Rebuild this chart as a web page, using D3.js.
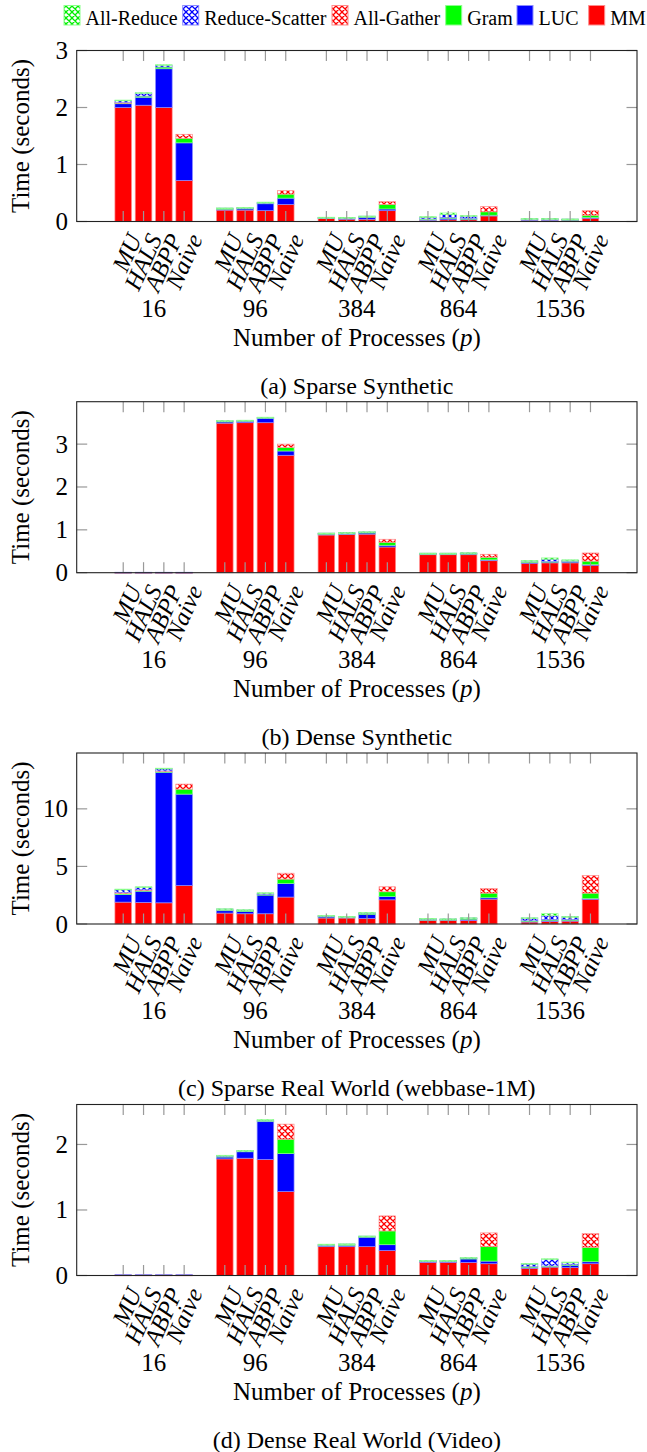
<!DOCTYPE html>
<html><head><meta charset="utf-8">
<script src="https://cdn.jsdelivr.net/npm/d3@7"></script>
<style>body{margin:0;background:#fff} svg{display:block}</style>
</head><body><svg id="c" width="647" height="1452"></svg>
<script>
// ---------- data ----------
const groups = ["16","96","384","864","1536"];
const algorithms = ["MU","HALS","ABPP","Naive"];
const components = ["MM","LUC","Gram","All-Gather","Reduce-Scatter","All-Reduce"];
const legendOrder = ["All-Reduce","Reduce-Scatter","All-Gather","Gram","LUC","MM"];

// (a) Sparse Synthetic  — bars ordered group by group: MU, HALS, ABPP, Naive
const sparseSyn_MM   = [2.00,2.04,2.00,0.72, 0.20,0.20,0.19,0.30, 0.05,0.04,0.04,0.19, 0.02,0.03,0.03,0.10, 0.02,0.02,0.02,0.06];
const sparseSyn_LUC  = [0.07,0.14,0.68,0.66, 0.02,0.03,0.13,0.11, 0.015,0.02,0.04,0.03, 0.02,0.03,0.02,0.01, 0.02,0.02,0.015,0.01];
const sparseSyn_Gram = [0.01,0.02,0.03,0.08, 0.005,0.005,0.005,0.07, 0.003,0.005,0.003,0.08, 0.005,0.01,0.005,0.06, 0.005,0.005,0.003,0.04];
const sparseSyn_AG   = [0.01,0,0,0.07, 0,0,0,0.06, 0,0,0,0.05, 0,0,0,0.09, 0,0,0,0.08];
const sparseSyn_RS   = [0.03,0.05,0.03,0, 0.01,0.01,0.01,0, 0.005,0.005,0.01,0, 0.03,0.05,0.04,0, 0.005,0.005,0.005,0];
const sparseSyn_AR   = [0.01,0.01,0.01,0, 0.003,0.003,0.005,0, 0.002,0.002,0.003,0, 0.01,0.03,0.01,0, 0.003,0.003,0.002,0];

// (b) Dense Synthetic
const denseSyn_MM   = [0.008,0.008,0.008,0.008, 3.49,3.50,3.50,2.74, 0.88,0.89,0.90,0.60, 0.42,0.42,0.42,0.28, 0.23,0.23,0.23,0.18];
const denseSyn_LUC  = [0.003,0.003,0.003,0.003, 0.04,0.04,0.11,0.10, 0.03,0.03,0.04,0.04, 0.02,0.02,0.03,0.02, 0.005,0.03,0.03,0.01];
const denseSyn_Gram = [0,0,0,0, 0.005,0.005,0.005,0.08, 0.003,0.003,0.003,0.07, 0.005,0.005,0.003,0.06, 0.02,0.005,0.01,0.08];
const denseSyn_AG   = [0,0,0,0, 0,0,0,0.08, 0,0,0,0.07, 0,0,0,0.07, 0,0,0,0.19];
const denseSyn_RS   = [0,0,0,0, 0.01,0.01,0.01,0, 0.01,0.01,0.01,0, 0.01,0.01,0.01,0, 0.02,0.05,0.02,0];
const denseSyn_AR   = [0,0,0,0, 0.003,0.003,0.003,0, 0.003,0.003,0.003,0, 0.002,0.002,0.002,0, 0.01,0.03,0.01,0];

// (c) Sparse Real World (webbase-1M)
const sparseReal_MM   = [1.90,1.88,1.84,3.34, 0.95,0.89,0.89,2.34, 0.52,0.52,0.49,2.10, 0.32,0.33,0.31,2.16, 0.17,0.23,0.25,2.16];
const sparseReal_LUC  = [0.65,0.98,11.35,7.94, 0.22,0.22,1.64,1.18, 0.13,0.07,0.37,0.29, 0.08,0.06,0.15,0.12, 0.10,0.14,0.12,0.05];
const sparseReal_Gram = [0.10,0.05,0.05,0.43, 0.05,0.04,0.04,0.38, 0.03,0.02,0.03,0.41, 0.01,0.02,0.01,0.40, 0.01,0.01,0.01,0.47];
const sparseReal_AG   = [0.08,0.06,0.06,0.44, 0,0,0,0.51, 0,0,0,0.43, 0,0,0,0.40, 0,0,0,1.53];
const sparseReal_RS   = [0.25,0.22,0.20,0, 0.08,0.07,0.10,0, 0.05,0.04,0.08,0, 0.06,0.03,0.06,0, 0.24,0.34,0.24,0];
const sparseReal_AR   = [0.05,0.04,0.03,0, 0.02,0.02,0.04,0, 0.02,0.01,0.03,0, 0.02,0.01,0.01,0, 0.02,0.17,0.02,0];

// (d) Dense Real World (Video)
const denseReal_MM   = [0.008,0.008,0.008,0.008, 1.78,1.79,1.77,1.28, 0.44,0.44,0.44,0.38, 0.20,0.20,0.20,0.18, 0.11,0.13,0.12,0.18];
const denseReal_LUC  = [0.004,0.004,0.004,0.004, 0.03,0.10,0.58,0.58, 0.02,0.02,0.15,0.09, 0.02,0.02,0.06,0.04, 0.02,0.01,0.04,0.03];
const denseReal_Gram = [0,0,0,0, 0.01,0.01,0.01,0.22, 0.005,0.01,0.005,0.21, 0.003,0.003,0.003,0.22, 0.005,0.005,0.005,0.22];
const denseReal_AG   = [0,0,0,0, 0,0,0,0.23, 0,0,0,0.23, 0,0,0,0.21, 0,0,0,0.21];
const denseReal_RS   = [0,0,0,0, 0.01,0.005,0.01,0, 0.01,0.01,0.005,0, 0.005,0.005,0.01,0, 0.04,0.10,0.03,0];
const denseReal_AR   = [0,0,0,0, 0.005,0.003,0.01,0, 0.003,0.003,0.003,0, 0.002,0.002,0.002,0, 0.01,0.01,0.01,0];

const captions = ["(a) Sparse Synthetic","(b) Dense Synthetic","(c) Sparse Real World (webbase-1M)","(d) Dense Real World (Video)"];
const yMaxes = [3.0, 3.99, 14.85, 2.61];
const yTicks = [[0,1,2,3],[0,1,2,3],[0,5,10],[0,1,2]];
const panelSeries = [
  [sparseSyn_MM, sparseSyn_LUC, sparseSyn_Gram, sparseSyn_AG, sparseSyn_RS, sparseSyn_AR],
  [denseSyn_MM, denseSyn_LUC, denseSyn_Gram, denseSyn_AG, denseSyn_RS, denseSyn_AR],
  [sparseReal_MM, sparseReal_LUC, sparseReal_Gram, sparseReal_AG, sparseReal_RS, sparseReal_AR],
  [denseReal_MM, denseReal_LUC, denseReal_Gram, denseReal_AG, denseReal_RS, denseReal_AR]
];

// ---------- layout & style ----------
const panelTops = [50.5, 401.7, 753, 1104.5];
const plotH = 171, plotL = 76.7, plotR = 637;
const FONT = "'Liberation Serif','Times New Roman',serif";
const style = {
  "MM":            {fill:"#ff0000", stroke:"#ff8c8c"},
  "LUC":           {fill:"#0000ff", stroke:"#8c8cff"},
  "Gram":          {fill:"#00ff00", stroke:"#8cff8c"},
  "All-Gather":    {fill:"url(#hatch-red)",   stroke:"#ff8c8c"},
  "Reduce-Scatter":{fill:"url(#hatch-blue)",  stroke:"#8c8cff"},
  "All-Reduce":    {fill:"url(#hatch-green)", stroke:"#8cff8c"}
};

const svg = d3.select("#c");
const defs = svg.append("defs");
[["hatch-red","#ff0000"],["hatch-blue","#0000ff"],["hatch-green","#00ee00"]].forEach(([id,c])=>{
  const p = defs.append("pattern").attr("id",id).attr("patternUnits","userSpaceOnUse")
    .attr("width",6).attr("height",6);
  p.append("rect").attr("width",6).attr("height",6).attr("fill","#fff");
  p.append("path").attr("d","M0,0 L6,6 M6,0 L0,6 M-1,5 L1,7 M5,-1 L7,1 M5,7 L7,5 M-1,1 L1,-1")
    .attr("stroke",c).attr("stroke-width",1.3).attr("fill","none");
});

// slot index for each bar (one empty slot between groups)
const slots = [];
groups.forEach((g,gi)=>algorithms.forEach((a,ai)=>slots.push({group:g, alg:a, slot:gi*5+ai})));
const x = d3.scaleLinear().domain([-2.29, 25.29]).range([plotL, plotR]);
const barW = 16.6;

// ---------- legend ----------
const legendX = [64, 182.7, 332, 445.7, 517, 588.7];
const leg = svg.append("g");
legendOrder.forEach((k,i)=>{
  leg.append("rect").attr("x",legendX[i]).attr("y",5.5).attr("width",16).attr("height",19.5)
    .attr("fill",style[k].fill).attr("stroke",style[k].stroke).attr("stroke-width",1);
  leg.append("text").attr("x",legendX[i]+21.5).attr("y",24.5).attr("font-family",FONT)
    .attr("font-size",20).text(k);
});

// ---------- panels ----------
panelSeries.forEach((series,pi)=>{
  const top = panelTops[pi], bottom = top + plotH;
  const y = d3.scaleLinear().domain([0, yMaxes[pi]]).range([bottom, top]);
  const g = svg.append("g");
  const table = slots.map((s,i)=>{
    const row = {slot:s.slot, alg:s.alg};
    components.forEach((c,ci)=>row[c]=series[ci][i]);
    return row;
  });
  const stacked = d3.stack().keys(components)(table);

  stacked.forEach(layer=>{
    const st = style[layer.key];
    g.append("g").selectAll("rect").data(layer.filter(d=>d[1]-d[0]>0)).join("rect")
      .attr("x",d=>x(d.data.slot)-barW/2)
      .attr("width",barW)
      .attr("y",d=>y(d[1]))
      .attr("height",d=>Math.max(0.8, y(d[0])-y(d[1])))
      .attr("fill",st.fill)
      .attr("stroke",st.stroke).attr("stroke-width",0.7);
  });

  // tick marks
  const tickC = "#999", tl = 10.5;
  slots.forEach(s=>{
    const xx = x(s.slot);
    g.append("line").attr("x1",xx).attr("x2",xx).attr("y1",top).attr("y2",top+tl).attr("stroke",tickC).attr("stroke-width",1.2);
    g.append("line").attr("x1",xx).attr("x2",xx).attr("y1",bottom).attr("y2",bottom-tl).attr("stroke",tickC).attr("stroke-width",1.2);
  });
  yTicks[pi].forEach(t=>{
    const yy = y(t);
    g.append("line").attr("x1",plotL).attr("x2",plotL+tl).attr("y1",yy).attr("y2",yy).attr("stroke",tickC).attr("stroke-width",1.2);
    g.append("line").attr("x1",plotR).attr("x2",plotR-tl).attr("y1",yy).attr("y2",yy).attr("stroke",tickC).attr("stroke-width",1.2);
    g.append("text").attr("x",68).attr("y",yy+8.5).attr("text-anchor","end")
      .attr("font-family",FONT).attr("font-size",25).text(t);
  });
  // frame
  g.append("rect").attr("x",plotL).attr("y",top).attr("width",plotR-plotL).attr("height",plotH)
    .attr("fill","none").attr("stroke","#222").attr("stroke-width",1.1);

  // y title
  g.append("text").attr("transform",`translate(29,${(top+bottom)/2}) rotate(-90)`)
    .attr("text-anchor","middle").attr("font-family",FONT).attr("font-size",25).text("Time (seconds)");

  // x labels (rotated)
  slots.forEach(s=>{
    g.append("text").attr("transform",`translate(${x(s.slot)+19},${bottom+17}) rotate(-66)`)
      .attr("text-anchor","end").attr("font-family",FONT).attr("font-style","italic")
      .attr("font-size",24.5).text(s.alg);
  });
  groups.forEach((gr,gi)=>{
    g.append("text").attr("x",x(gi*5+1.5)).attr("y",bottom+95).attr("text-anchor","middle")
      .attr("font-family",FONT).attr("font-size",25).text(gr);
  });
  const xt = g.append("text").attr("x",(plotL+plotR)/2).attr("y",bottom+124).attr("text-anchor","middle")
    .attr("font-family",FONT).attr("font-size",25);
  xt.append("tspan").text("Number of Processes (");
  xt.append("tspan").attr("font-style","italic").text("p");
  xt.append("tspan").text(")");

  g.append("text").attr("x",(plotL+plotR)/2).attr("y",bottom+172).attr("text-anchor","middle")
    .attr("font-family",FONT).attr("font-size",24).text(captions[pi]);
});
</script></body></html>
